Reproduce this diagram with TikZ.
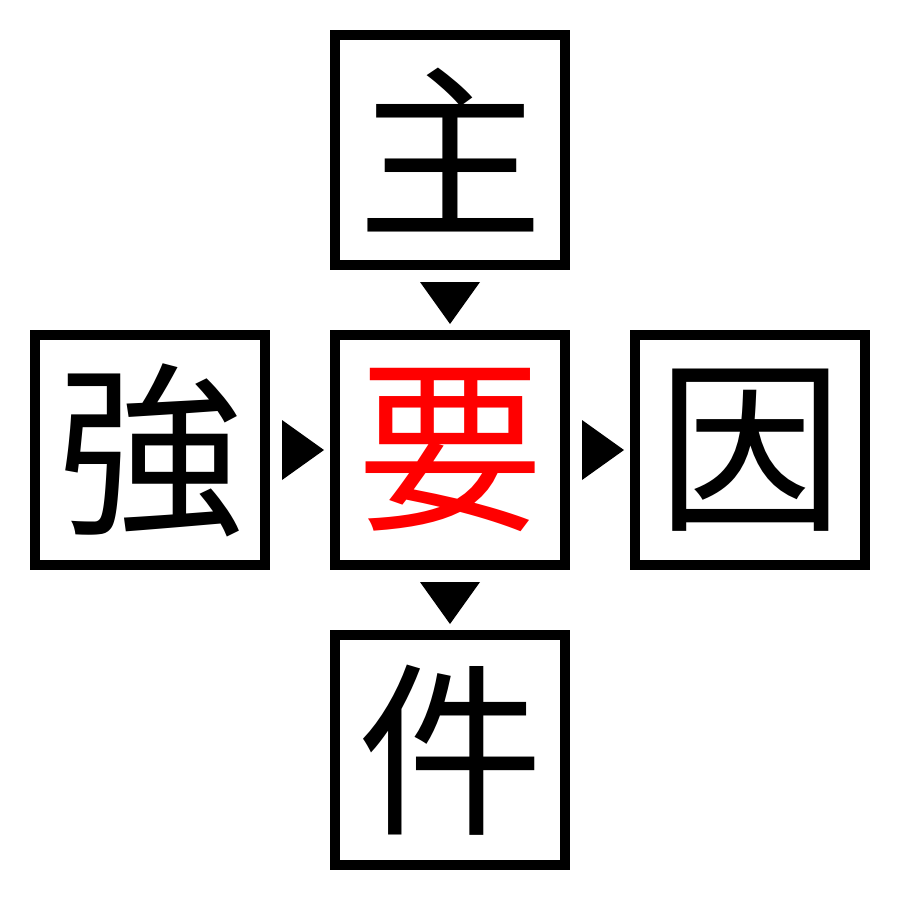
\documentclass[tikz,border=0pt]{standalone}
\usepackage{fontspec}
\newfontfamily\cjk{Noto Sans CJK JP}
\usetikzlibrary{calc}
\tikzset{
  charbox/.style={draw=black, line width=10pt, minimum width=230pt, minimum height=230pt,
    inner sep=0pt, font=\cjk\fontsize{186}{186}\selectfont, text=black},
  tri/.style={fill=black, draw=none}
}
\begin{document}
\begin{tikzpicture}[x=1pt,y=-1pt]
\useasboundingbox (0,0) rectangle (900,900);
\node[charbox] (top) at (450,150) {主};
\node[charbox, text={rgb,255:red,255;green,0;blue,0}] (c) at (450,450) {要};
\node[charbox] (l) at (150,450) {強};
\node[charbox] (r) at (750,450) {因};
\node[charbox] (b) at (450,750) {件};
% arrowheads
\fill[tri] ($(top.south)+(-30,12)$) -- ($(top.south)+(30,12)$) -- ($(c.north)+(0,-6)$) -- cycle;
\fill[tri] ($(c.south)+(-30,12)$) -- ($(c.south)+(30,12)$) -- ($(b.north)+(0,-6)$) -- cycle;
\fill[tri] ($(l.east)+(12,-30)$) -- ($(l.east)+(12,30)$) -- ($(c.west)+(-6,0)$) -- cycle;
\fill[tri] ($(c.east)+(12,-30)$) -- ($(c.east)+(12,30)$) -- ($(r.west)+(-6,0)$) -- cycle;
\end{tikzpicture}
\end{document}
